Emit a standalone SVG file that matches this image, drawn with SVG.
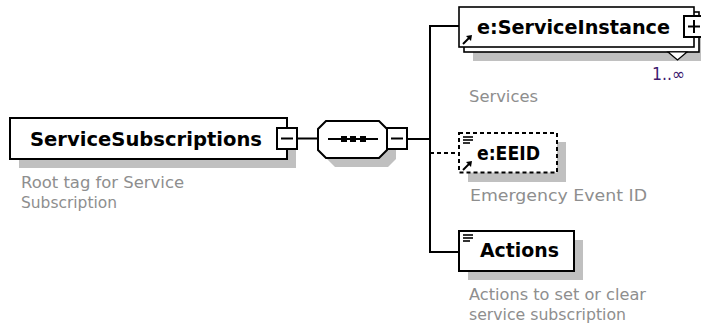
<svg xmlns="http://www.w3.org/2000/svg" width="701" height="329" viewBox="0 0 701 329">
<style>
.box{fill:#fff;stroke:#000;stroke-width:2}
.shadow{fill:#c0c0c0}
.lbl{font-family:"DejaVu Sans",Verdana,sans-serif;font-weight:bold;font-size:19px;fill:#000}
.desc{font-family:"DejaVu Sans",Verdana,sans-serif;font-size:16px;fill:#8e8e8e}
.conn{fill:none;stroke:#000;stroke-width:2}
.tog{fill:#fff;stroke:#000;stroke-width:2}
.icon{stroke:#000;stroke-width:1.6;fill:none}
</style>
<defs>
<g id="refArrow">
<line x1="0" y1="9" x2="6" y2="3" stroke="#000" stroke-width="2"/>
<polygon points="9,0 3,1 8,6" fill="#000"/>
</g>
<g id="lines3">
<line x1="0" y1="0" x2="10" y2="0" class="icon"/>
<line x1="0" y1="3" x2="10" y2="3" class="icon"/>
<line x1="0" y1="6" x2="7" y2="6" class="icon"/>
</g>
</defs>

<g id="connectors">
<line x1="297" y1="138.5" x2="318" y2="138.5" class="conn"/>
<line x1="407" y1="139" x2="430" y2="139" class="conn"/>
<polyline points="459,26 430,26 430,252 459,252" class="conn"/>
<line x1="430" y1="153" x2="459" y2="153" class="conn" stroke-dasharray="4,3"/>
</g>

<g id="ServiceSubscriptions">
<rect x="19" y="127" width="277" height="41" class="shadow"/>
<rect x="10" y="118" width="277" height="41" class="box"/>
<text x="30" y="145.5" class="lbl" textLength="232" lengthAdjust="spacingAndGlyphs">ServiceSubscriptions</text>
<rect x="277" y="128" width="20" height="21" class="tog"/>
<line x1="281" y1="138.5" x2="293" y2="138.5" stroke="#000" stroke-width="2"/>
<text x="21" y="187.5" class="desc" textLength="163" lengthAdjust="spacingAndGlyphs">Root tag for Service</text>
<text x="21" y="208" class="desc" textLength="96" lengthAdjust="spacingAndGlyphs">Subscription</text>
</g>

<g id="sequence">
<polygon points="335,130 388,130 396,138 396,159 388,167 335,167 327,159 327,138" class="shadow"/>
<polygon points="326,121 379,121 387,129 387,150 379,158 326,158 318,150 318,129" class="box"/>
<line x1="328" y1="139" x2="378" y2="139" stroke="#000" stroke-width="2"/>
<rect x="341" y="136" width="6" height="6" fill="#000"/>
<rect x="350" y="136" width="6" height="6" fill="#000"/>
<rect x="360" y="136" width="6" height="6" fill="#000"/>
<rect x="387" y="128" width="20" height="21" class="tog"/>
<line x1="391" y1="138.5" x2="403" y2="138.5" stroke="#000" stroke-width="2"/>
</g>

<g id="ServiceInstance">
<rect x="473" y="21" width="240" height="40" class="shadow"/>
<rect x="464" y="12" width="235" height="40" fill="#fff" stroke="#000" stroke-width="1.6"/>
<rect x="459" y="7" width="235" height="40" fill="#fff" stroke="#000" stroke-width="1.6"/>
<polygon points="668,52 687,52 677.5,60" fill="#fff" stroke="#000" stroke-width="1.2"/>
<text x="477" y="33.5" class="lbl" textLength="193" lengthAdjust="spacingAndGlyphs">e:ServiceInstance</text>
<use href="#refArrow" x="463" y="35"/>
<rect x="684" y="16" width="20" height="21" class="tog"/>
<line x1="688" y1="26.5" x2="700" y2="26.5" stroke="#000" stroke-width="2"/>
<line x1="694" y1="20" x2="694" y2="33" stroke="#000" stroke-width="2"/>
<text x="652" y="80" font-family="DejaVu Sans,Verdana,sans-serif" font-size="17" fill="#3d1a6e" textLength="33" lengthAdjust="spacingAndGlyphs">1..∞</text>
<text x="469" y="101.5" class="desc" textLength="69" lengthAdjust="spacingAndGlyphs">Services</text>
</g>

<g id="EEID">
<rect x="468" y="142" width="98" height="40" class="shadow"/>
<rect x="459" y="133" width="98" height="39.5" class="box" stroke-dasharray="4,3"/>
<use href="#lines3" x="463" y="137"/>
<use href="#refArrow" x="463" y="161"/>
<text x="477" y="160" class="lbl" textLength="63" lengthAdjust="spacingAndGlyphs">e:EEID</text>
<text x="470" y="200.5" class="desc" textLength="177" lengthAdjust="spacingAndGlyphs">Emergency Event ID</text>
</g>

<g id="Actions">
<rect x="468" y="240" width="115" height="40" class="shadow"/>
<rect x="459" y="231" width="115" height="40" class="box"/>
<use href="#lines3" x="463" y="235"/>
<text x="480" y="257" class="lbl" textLength="79" lengthAdjust="spacingAndGlyphs">Actions</text>
<text x="469" y="299.5" class="desc" textLength="177" lengthAdjust="spacingAndGlyphs">Actions to set or clear</text>
<text x="469" y="320" class="desc" textLength="157" lengthAdjust="spacingAndGlyphs">service subscription</text>
</g>
</svg>
